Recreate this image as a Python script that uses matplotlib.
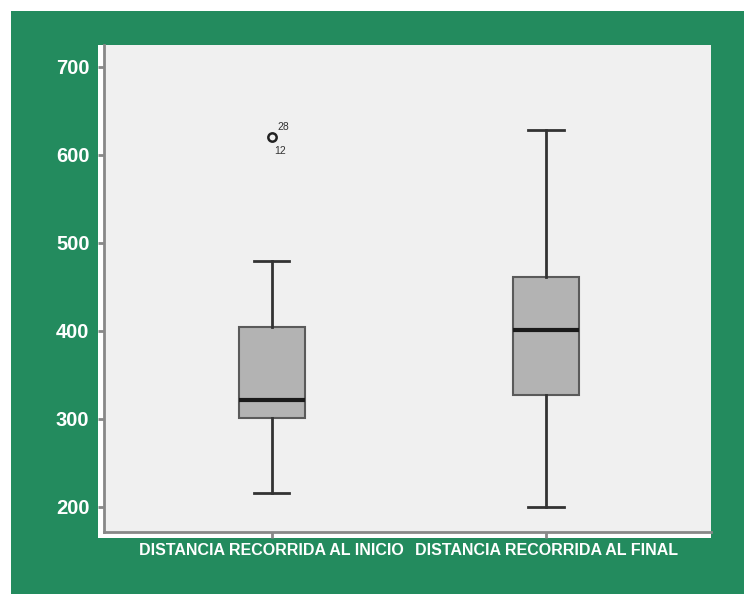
import matplotlib
matplotlib.use("Agg")
import matplotlib.pyplot as plt
from matplotlib.patches import Rectangle

categories = ["DISTANCIA RECORRIDA AL INICIO", "DISTANCIA RECORRIDA AL FINAL"]
whislo = [216, 200]
q1 = [301, 327]
med = [322, 401]
q3 = [405, 461]
whishi = [480, 628]
outliers = [[620], []]
outlier_ids = [["28", "12"], []]
yticks = [200, 300, 400, 500, 600, 700]

W, H = 744, 594
fig = plt.figure(figsize=(W / 100, H / 100), dpi=100, facecolor="white")

green = "#238B5E"
fig.patches.append(Rectangle((11 / W, 0), 1 - 11 / W, 1 - 11 / H, transform=fig.transFigure,
                             facecolor=green, edgecolor="none", zorder=-3))
fig.patches.append(Rectangle((98 / W, 1 - 538 / H), (711 - 98) / W, (538 - 45) / H,
                             transform=fig.transFigure, facecolor="white", edgecolor="none", zorder=-2))

ax = fig.add_axes([104 / W, 1 - 532 / H, (711 - 104) / W, (532 - 45) / H])
ax.set_facecolor("#F0F0F0")

stats = []
for i in range(len(categories)):
    stats.append(dict(label=categories[i], whislo=whislo[i], q1=q1[i], med=med[i],
                      q3=q3[i], whishi=whishi[i], fliers=outliers[i]))

positions = [1, 2]
ax.bxp(stats, positions=positions, widths=0.24, patch_artist=True, showfliers=True,
       boxprops=dict(facecolor="#B3B3B3", edgecolor="#5a5a5a", linewidth=1.5),
       medianprops=dict(color="#1a1a1a", linewidth=3),
       whiskerprops=dict(color="#333333", linewidth=2),
       capprops=dict(color="#333333", linewidth=2),
       flierprops=dict(marker="o", markerfacecolor="none", markeredgecolor="#222222",
                       markersize=6, markeredgewidth=1.8),
       capwidths=0.13)

for i, pos in enumerate(positions):
    for v in outliers[i]:
        ids = outlier_ids[i]
        ax.annotate(ids[0], (pos, v), xytext=(4, 5), textcoords="offset points",
                    fontsize=7.5, color="#333333", family="Liberation Sans")
        ax.annotate(ids[1], (pos, v), xytext=(2, -12), textcoords="offset points",
                    fontsize=7.5, color="#333333", family="Liberation Sans")

ax.set_xlim(0.39, 2.6)
ax.set_ylim(171.5, 725)
ax.set_yticks(yticks)
ax.set_yticklabels([str(t) for t in yticks], color="white", fontsize=14.5,
                   fontweight="bold", family="Liberation Sans")
ax.set_xticks(positions)
ax.set_xticklabels(categories, color="white", fontsize=11.5, fontweight="bold",
                   family="Liberation Sans")
ax.tick_params(axis="y", direction="out", length=4.5, width=2, color="#888888", pad=6)
ax.tick_params(axis="x", direction="out", length=4.5, width=2, color="#888888", pad=3.5)

for s in ["top", "right"]:
    ax.spines[s].set_visible(False)
for s in ["left", "bottom"]:
    ax.spines[s].set_color("#888888")
    ax.spines[s].set_linewidth(2)

fig.savefig("out.png", dpi=100, facecolor=fig.get_facecolor())
